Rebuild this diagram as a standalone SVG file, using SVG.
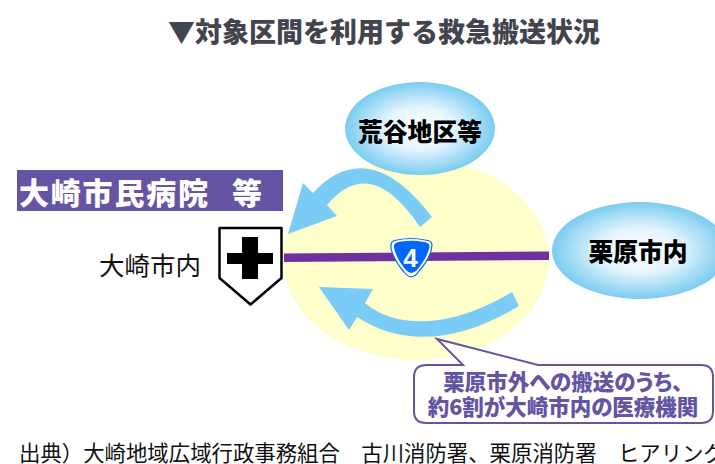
<svg xmlns="http://www.w3.org/2000/svg" width="715" height="464" viewBox="0 0 715 464">
<style>
text{font-family:"Noto Sans CJK JP","Liberation Sans",sans-serif}
.b{font-weight:900}
.lab{font-size:24.8px;font-weight:900;fill:#000;text-anchor:middle}
.ar{fill:#7accf7}
.pur{fill:#6554a3}
.cal{font-size:21.5px;font-weight:900;fill:#6554a3;text-anchor:middle;font-feature-settings:"palt"}
</style>
<defs>
<radialGradient id="g"><stop offset="0" stop-color="#fff"/><stop offset=".45" stop-color="#e6f5fd"/><stop offset="1" stop-color="#7accf0"/></radialGradient>
</defs>
<rect width="715" height="464" fill="#fff"/>
<text id="title" x="384" y="42" class="b" font-size="27" fill="#44444f" text-anchor="middle">▼対象区間を利用する救急搬送状況</text>
<g id="area"><ellipse cx="416" cy="259" rx="133" ry="101" fill="#ffffcc"/></g>
<g id="connectors">
<polygon points="284,253.500 549,251.500 549,260 284,262" fill="#7030a0"/>
<path class="ar" d="M288,234 L303,183 L313,193 C345,158 385,155 432,217 L420,227 C385,175 355,172 327,205 L337,216 Z"/>
<path class="ar" d="M319,287 L373,289 L365,303 C395,329 450,329 512,292 L519,306 C455,345 400,345 357,317 L349,330 Z"/>
</g>
<g id="n-oosaki-hospital">
<rect x="17" y="170" width="266" height="41" class="pur"/>
<text y="204" class="b" font-size="30" fill="#fff" letter-spacing="1.800" x="19">大崎市民病院</text>
<text y="204" class="b" font-size="30" fill="#fff" x="232">等</text>
</g>
<g id="n-shield">
<path d="M219.500,228 H281.500 V278 L250.500,304.500 L219.500,278 Z" fill="#fff" stroke="#000" stroke-width="2.500" stroke-linejoin="round"/>
<path d="M242,237 H258 V253 H273 V264 H258 V279 H242 V264 H227 V253 H242 Z" fill="#000"/>
</g>
<text id="n-oosaki-city" x="150" y="275" font-size="25.500" fill="#111" text-anchor="middle">大崎市内</text>
<g id="n-aratani">
<ellipse cx="420" cy="128.500" rx="75" ry="46.500" fill="url(#g)"/>
<text x="420" y="141" class="lab">荒谷地区等</text>
</g>
<g id="n-kurihara">
<ellipse cx="640" cy="250.500" rx="88" ry="48.500" fill="url(#g)"/>
<text x="638" y="261" class="lab">栗原市内</text>
</g>
<g id="n-route4">
<path d="M391,245 Q391,240.500 397,240 Q411,237 425,240 Q432,240.500 432,245 Q431,258 419,271 Q412,282 404,272 Q393,259 391,248 Z" fill="#fff" stroke="#0066ff" stroke-width="1.200"/>
<path d="M394,245 Q396,241.500 402,241.500 Q412,240 424,242 Q430,243 429.500,247 Q427,258 417,270 Q411,276 406,270 Q397,260 394,248 Z" fill="#0066ff"/>
<text x="410.500" y="267" font-size="26" font-weight="700" fill="#fff" text-anchor="middle" style="font-family:'Liberation Sans',sans-serif">4</text>
</g>
<g id="n-callout">
<path d="M427,365 H463 L437,339 L538,365 H701 Q713,365 713,377 V411 Q713,423 701,423 H426 Q414,423 414,411 V377 Q414,365 427,365 Z" fill="#fff" stroke="#6554a3" stroke-width="2"/>
<text x="563" y="390" class="cal">栗原市外への搬送のうち、</text>
<text x="563" y="415" class="cal">約6割が大崎市内の医療機関</text>
</g>
<text id="source" x="19" y="461" font-size="21.400" fill="#111">出典）大崎地域広域行政事務組合　古川消防署、栗原消防署　ヒアリング</text>
</svg>
